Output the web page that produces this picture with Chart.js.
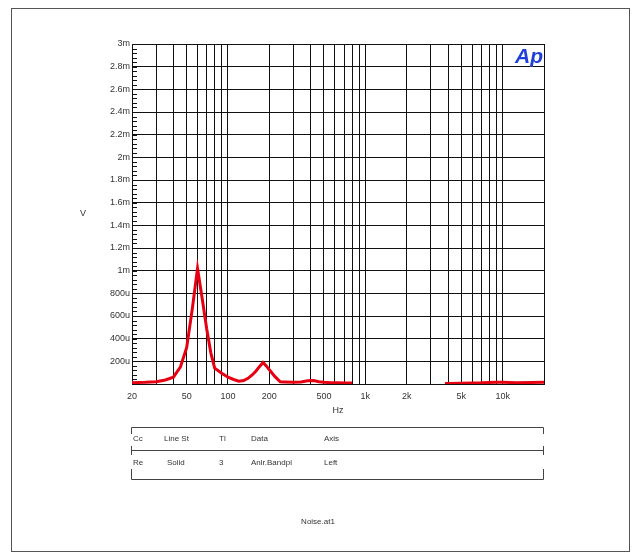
<!DOCTYPE html>
<html>
<head>
<meta charset="utf-8">
<script src="https://cdn.jsdelivr.net/npm/chart.js@4/dist/chart.umd.min.js"></script>
<style>
  html, body { margin: 0; padding: 0; background: #ffffff; }
  #c { display: block; }
</style>
</head>
<body>
<canvas id="c" width="638" height="556"></canvas>
<script>
// ---- data ----
const freqHz = [20, 25, 30, 35, 40, 45, 50, 55, 60, 65, 70, 75, 80, 90, 100, 110, 120, 130, 140, 150, 160, 170, 180, 190, 200, 220, 240, 260, 300, 340, 380, 420, 460, 500, 560, 630, 710, 800, 1000, 2000, 3000, 3800, 4000, 5000, 6000, 7000, 8000, 9000, 10000, 12500, 16000, 20000];
const noiseVolts = [12e-6, 15e-6, 20e-6, 35e-6, 60e-6, 150e-6, 320e-6, 665e-6, 1020e-6, 748e-6, 485e-6, 275e-6, 140e-6, 95e-6, 60e-6, 40e-6, 25e-6, 30e-6, 50e-6, 80e-6, 115e-6, 155e-6, 190e-6, 160e-6, 125e-6, 65e-6, 20e-6, 18e-6, 15e-6, 18e-6, 28e-6, 30e-6, 20e-6, 15e-6, 12e-6, 10e-6, 8e-6, 8e-6, null, null, null, 5e-6, 5e-6, 6e-6, 8e-6, 10e-6, 14e-6, 15e-6, 15e-6, 12e-6, 14e-6, 15e-6];

const xGridValues = [20,30,40,50,60,70,80,90,100,200,300,400,500,600,700,800,900,1000,2000,3000,4000,5000,6000,7000,8000,9000,10000,20000];
const xLabelValues = [20, 50, 100, 200, 500, 1000, 2000, 5000, 10000];
const xLabelTexts = ['20', '50', '100', '200', '500', '1k', '2k', '5k', '10k'];

const yTickValues = [0, 200e-6, 400e-6, 600e-6, 800e-6, 1e-3, 1.2e-3, 1.4e-3, 1.6e-3, 1.8e-3, 2e-3, 2.2e-3, 2.4e-3, 2.6e-3, 2.8e-3, 3e-3];
const yTickLabels = ['', '200u', '400u', '600u', '800u', '1m', '1.2m', '1.4m', '1.6m', '1.8m', '2m', '2.2m', '2.4m', '2.6m', '2.8m', '3m'];
const yMinorStep = 40e-6;

const legendHeader = ['Cc', 'Line St', 'Tl', 'Data', 'Axis'];
const legendRow = ['Re', 'Solid', '3', 'Anlr.Bandpi', 'Left'];

const FONT = '"Liberation Sans", Arial, sans-serif';
const TXT = '#333333';
const GRID = '#111111';

const extras = {
  id: 'extras',
  afterDraw(chart) {
    const ctx = chart.ctx;
    const ys = chart.scales.y;
    const area = chart.chartArea;
    ctx.save();
    // minor y ticks inside plot
    ctx.strokeStyle = GRID;
    ctx.lineWidth = 1;
    ctx.beginPath();
    for (let v = 0; v <= 3e-3 + 1e-9; v += yMinorStep) {
      const py = Math.round(ys.getPixelForValue(v)) + 0.5;
      ctx.moveTo(area.left, py);
      ctx.lineTo(area.left + 5, py);
    }
    ctx.stroke();

    // axis titles
    ctx.fillStyle = TXT;
    ctx.font = '9px ' + FONT;
    ctx.textAlign = 'center';
    ctx.textBaseline = 'middle';
    ctx.fillText('V', 83, 214);
    ctx.fillText('Hz', 338, 411);

    // Ap logo
    ctx.fillStyle = '#1f3fd6';
    ctx.font = 'italic bold 21px ' + FONT;
    ctx.textAlign = 'right';
    ctx.textBaseline = 'alphabetic';
    ctx.fillText('Ap', 543, 63);

    // legend table
    ctx.strokeStyle = '#444';
    ctx.lineWidth = 1;
    const L = 131.5, R = 543.5;
    ctx.beginPath();
    ctx.moveTo(L, 427.5); ctx.lineTo(R, 427.5);
    ctx.moveTo(L, 450.5); ctx.lineTo(R, 450.5);
    ctx.moveTo(L, 479.5); ctx.lineTo(R, 479.5);
    ctx.moveTo(L, 427.5); ctx.lineTo(L, 434);
    ctx.moveTo(R, 427.5); ctx.lineTo(R, 434);
    ctx.moveTo(L, 446); ctx.lineTo(L, 455);
    ctx.moveTo(R, 446); ctx.lineTo(R, 455);
    ctx.moveTo(L, 469); ctx.lineTo(L, 479.5);
    ctx.moveTo(R, 469); ctx.lineTo(R, 479.5);
    ctx.stroke();

    const colX = [133, 164, 219, 251, 324];
    ctx.fillStyle = TXT;
    ctx.font = '8px ' + FONT;
    ctx.textAlign = 'left';
    ctx.textBaseline = 'middle';
    legendHeader.forEach((t, i) => ctx.fillText(t, colX[i], 439));
    legendRow.forEach((t, i) => ctx.fillText(t, i === 1 ? 167 : colX[i], 463));

    // file name
    ctx.textAlign = 'center';
    ctx.fillText('Noise.at1', 318, 522);

    // outer border
    ctx.strokeStyle = '#555';
    ctx.strokeRect(11.5, 8.5, 618, 543);
    ctx.restore();
  }
};

new Chart(document.getElementById('c'), {
  type: 'line',
  data: {
    datasets: [{
      data: freqHz.map((f, i) => ({ x: f, y: noiseVolts[i] })),
      borderColor: '#e60012',
      borderWidth: 3,
      pointRadius: 0,
      tension: 0,
      spanGaps: false,
      fill: false
    }]
  },
  options: {
    responsive: false,
    animation: false,
    devicePixelRatio: 1,
    layout: { padding: { left: 0, top: 44, right: 94, bottom: 152 } },
    plugins: { legend: { display: false }, tooltip: { enabled: false } },
    scales: {
      x: {
        type: 'logarithmic',
        min: 20,
        max: 20000,
        afterBuildTicks: (s) => { s.ticks = xGridValues.map(v => ({ value: v })); },
        afterFit: (s) => { s.height = 20; },
        grid: { color: GRID, lineWidth: 1, drawTicks: false },
        border: { color: GRID, width: 1 },
        ticks: {
          autoSkip: false,
          maxRotation: 0,
          padding: 7,
          color: TXT,
          font: { family: FONT, size: 9 },
          callback: (v) => { const k = xLabelValues.indexOf(v); return k >= 0 ? xLabelTexts[k] : ''; }
        }
      },
      y: {
        min: 0,
        max: 3e-3,
        afterBuildTicks: (s) => { s.ticks = yTickValues.map(v => ({ value: v })); },
        afterFit: (s) => { s.width = 132; },
        grid: { color: GRID, lineWidth: 1, drawTicks: false },
        border: { color: GRID, width: 1 },
        ticks: {
          autoSkip: false,
          padding: 2,
          color: TXT,
          font: { family: FONT, size: 9 },
          callback: (v) => { const k = yTickValues.findIndex(t => Math.abs(t - v) < 1e-9); return k >= 0 ? yTickLabels[k] : ''; }
        }
      }
    }
  },
  plugins: [extras]
});
</script>
</body>
</html>
